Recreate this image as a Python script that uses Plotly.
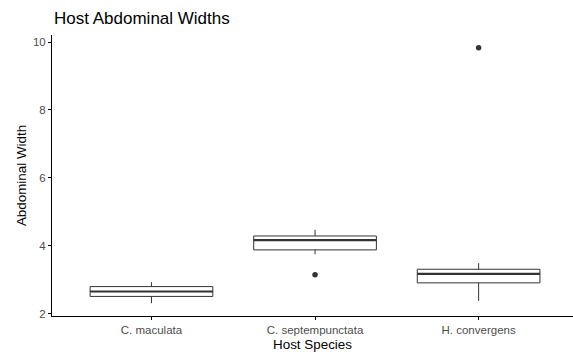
import plotly.graph_objects as go

# Host species and their abdominal width summary statistics
species = ["C. maculata", "C. septempunctata", "H. convergens"]
lower_whisker = [2.31, 3.75, 2.38]
q1 = [2.51, 3.88, 2.91]
median = [2.655, 4.17, 3.175]
q3 = [2.80, 4.29, 3.31]
upper_whisker = [2.93, 4.47, 3.49]

# Outlying observations
outlier_species = ["C. septempunctata", "H. convergens"]
outlier_values = [3.15, 9.83]

y_ticks = [2, 4, 6, 8, 10]

box_width = 0.75
edge = "#333333"
font_family = "Liberation Sans, Arial, sans-serif"

fig = go.Figure()

fig.add_trace(go.Box(
    x=species,
    q1=q1,
    median=median,
    q3=q3,
    lowerfence=lower_whisker,
    upperfence=upper_whisker,
    width=box_width,
    fillcolor="white",
    line=dict(color=edge, width=1),
    whiskerwidth=0,
    boxpoints=False,
    hoverinfo="skip",
    showlegend=False,
))

fig.add_trace(go.Scatter(
    x=outlier_species,
    y=outlier_values,
    mode="markers",
    marker=dict(color=edge, size=5.5),
    hoverinfo="skip",
    showlegend=False,
))

# Heavier median bars, as in ggplot boxplots
for i, m in enumerate(median):
    fig.add_shape(
        type="line", xref="x", yref="y",
        x0=i - box_width / 2, x1=i + box_width / 2, y0=m, y1=m,
        line=dict(color=edge, width=2.2),
    )

# Plot title, left-aligned with the panel
fig.add_annotation(
    text="Host Abdominal Widths",
    xref="paper", yref="paper", x=0, y=1 + 16.5 / 281,
    xanchor="left", yanchor="middle", showarrow=False,
    font=dict(size=17, color="black", family=font_family),
)

fig.update_layout(
    width=573,
    height=356,
    margin=dict(l=52, r=0, t=35, b=40),
    paper_bgcolor="white",
    plot_bgcolor="white",
    font=dict(family=font_family, color="black"),
    xaxis=dict(
        type="category",
        categoryorder="array",
        categoryarray=species,
        range=[-0.608, 2.577],
        showline=True, linecolor="black", linewidth=1,
        ticks="outside", ticklen=3, tickwidth=1, tickcolor="black",
        showgrid=False, zeroline=False,
        tickfont=dict(size=11.5, color="#4D4D4D"),
        title=dict(text="Host Species", font=dict(size=13.4, color="black"), standoff=4),
    ),
    yaxis=dict(
        range=[1.934, 10.206],
        tickvals=y_ticks,
        ticktext=[str(v) for v in y_ticks],
        showline=True, linecolor="black", linewidth=1,
        ticks="outside", ticklen=3, tickwidth=1, tickcolor="black",
        showgrid=False, zeroline=False,
        tickfont=dict(size=11.5, color="#4D4D4D"),
        title=dict(text="Abdominal Width", font=dict(size=13.4, color="black"), standoff=3),
    ),
)

fig.write_html("out.html")
